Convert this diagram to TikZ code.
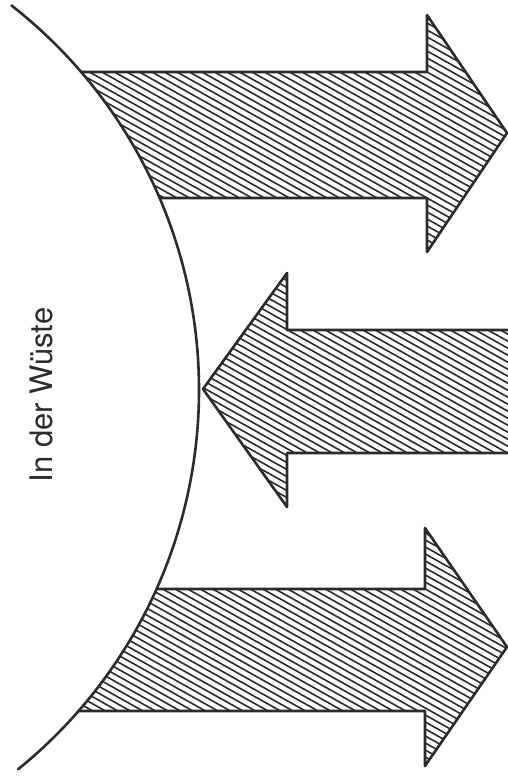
\documentclass[tikz,border=0pt]{standalone}
\usepackage{fontspec}
\setmainfont{TeX Gyre Heros}
\definecolor{ink}{HTML}{2B2B2B}
\begin{document}
\begin{tikzpicture}[x=1pt,y=-1pt,
  outline/.style={draw=ink,line width=2.6pt,line join=round,line cap=round},
  hatchline/.style={draw=ink,line width=1.6pt},
  label/.style={font=\fontsize{31}{34}\selectfont,text=ink,inner sep=0pt}]
\useasboundingbox (0,0) rectangle (508,776);
% earth curve
\coordinate (ctr) at (-289,390);
% hatching of the three arrows
\begin{scope}
  \clip (0,72) -- (427,72) -- (427,15) -- (507,133) -- (427,252) -- (427,198) -- (0,198) -- cycle
        (203,389) -- (287,273) -- (287,330) -- (515,330) -- (515,453) -- (287,453) -- (287,507) -- cycle
        (0,589) -- (425,589) -- (425,528) -- (507,647) -- (425,766) -- (425,711) -- (0,711) -- cycle;
  \begin{scope}[even odd rule]
    \clip (-10,-10) rectangle (530,790) (ctr) circle[radius=488];
    \foreach \k in {-300,-293,...,800} {
      \draw[hatchline] (0,\k) -- (520,\k+291);
    }
  \end{scope}
\end{scope}
% curve
\draw[outline] (ctr) ++(-52:488) coordinate (ctop) arc[start angle=-52,end angle=51,radius=488] coordinate (cbot);
% top arrow
\coordinate (a1s) at (81.2,72);
\coordinate (a1e) at (159.6,198);
\draw[outline] (a1s) -- (427,72) -- (427,15) -- (507,133) coordinate (a1tip) -- (427,252) -- (427,198) -- (a1e);
% middle arrow
\draw[outline] (515,330) -- (287,330) -- (287,273) -- (203,389) coordinate (a2tip) -- (287,507) -- (287,453) -- (515,453);
% bottom arrow
\coordinate (a3s) at (156.6,589);
\coordinate (a3e) at (78.6,711);
\draw[outline] (a3s) -- (425,589) -- (425,528) -- (507,647) coordinate (a3tip) -- (425,766) -- (425,711) -- (a3e);
% label
\node[label,rotate=90,anchor=base] (lbl) at (52,395) {In der Wüste};
\end{tikzpicture}
\end{document}
